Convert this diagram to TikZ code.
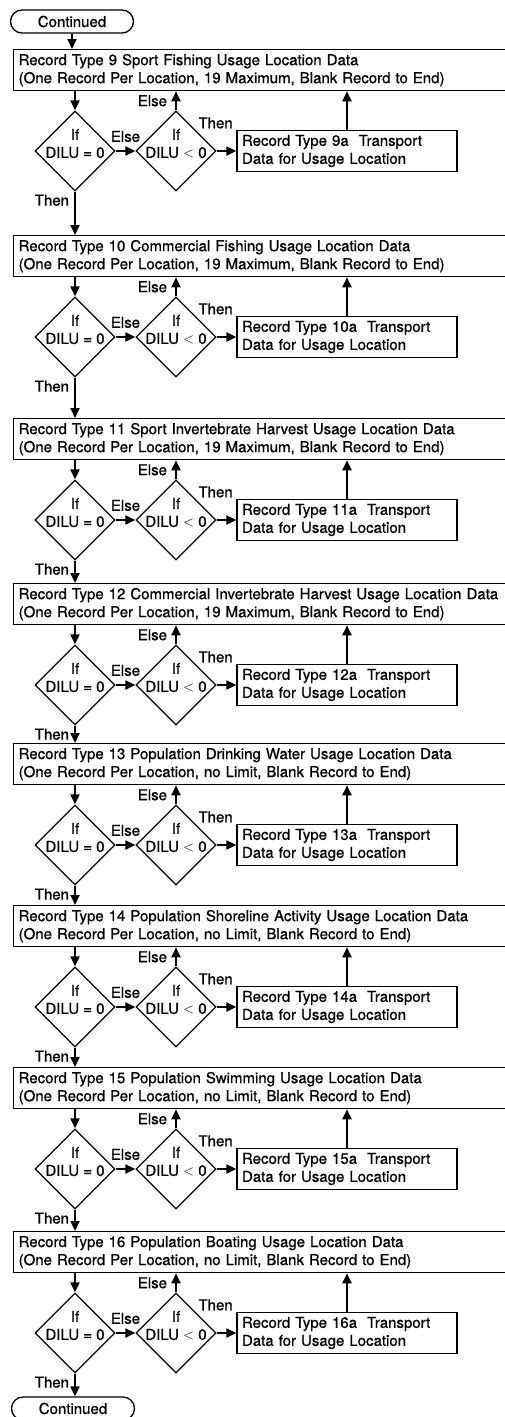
\documentclass[tikz,border=0pt]{standalone}
\usepackage{fontspec}
\setmainfont{TeX Gyre Heros}[FakeBold=0.8]
\usetikzlibrary{shapes.geometric,shapes.misc,arrows.meta}

\newcommand{\recfont}{\fontsize{15}{18}\selectfont}

\tikzset{
	recbox/.style={draw, line width=1.3pt, anchor=north west, minimum height=41pt, inner xsep=5pt, inner ysep=0pt, text width=484pt, align=left, font=\recfont},
	transbox/.style={draw, line width=1.3pt, minimum height=41pt, inner xsep=5pt, inner ysep=0pt, text width=210pt, align=left, font=\recfont},
	dilu/.style={draw, diamond, line width=1.3pt, minimum width=80pt, minimum height=80pt, inner sep=0pt},
	dilutext/.style={font=\recfont, align=center, inner sep=0pt, yshift=7.5pt},
	term/.style={draw, rounded rectangle, line width=1.3pt, minimum width=123pt, minimum height=23pt, inner sep=0pt, font=\recfont},
	flow/.style={line width=2pt, -{Triangle[length=10pt,width=9pt]}},
	tag/.style={font=\recfont, inner sep=2pt}
}

\begin{document}
\begin{tikzpicture}[x=1pt, y=-1pt]
	
	\useasboundingbox (0,0) rectangle (505,1417);
	
	\node [term] (contin) at (72,21.5) {Continued};
	\node [term] (contout) at (73,1408.5) {Continued};
	
	\foreach \n/\y/\title/\lim in {
		9/49/Sport Fishing/19 Maximum,
		10/235/Commercial Fishing/19 Maximum,
		11/418/Sport Invertebrate Harvest/19 Maximum,
		12/583/Commercial Invertebrate Harvest/19 Maximum,
		13/743/Population Drinking Water/no Limit,
		14/905/Population Shoreline Activity/no Limit,
		15/1067/Population Swimming/no Limit,
		16/1231/Population Boating/no Limit}
	{
		\node [recbox] (box\n) at (13,\y) {Record Type \n{} \title{} Usage Location Data\\(One Record Per Location, \lim, Blank Record to End)};
		
		\node [dilu, label={[dilutext]center:If\\DILU = 0}] (dzero\n) at (75,\y+102) {};
		\node [dilu, label={[dilutext]center:If\\DILU $<$ 0}] (dneg\n) at (176,\y+102) {};
		\node [transbox] (trans\n) at (347,\y+102) {Record Type \n a~ Transport\\Data for Usage Location};
		
		\draw [flow] (dzero\n |- box\n.south) -- (dzero\n.north);
		\draw [flow] (dzero\n.east) -- node [tag, above=6pt] {Else} (dneg\n.west);
		\draw [flow] (dneg\n.north) -- node [tag, left=6pt] {Else} (dneg\n |- box\n.south);
		\draw [flow] (dneg\n.east) -- (trans\n.west);
		\draw [flow] (trans\n.north) -- (trans\n.north |- box\n.south);
		\node [tag, anchor=south west] at (dneg\n.north east) {Then};
	}
	
	\draw [flow] (contin.south) -- (contin.south |- box9.north);
	
	\foreach \n/\m in {9/10, 10/11, 11/12, 12/13, 13/14, 14/15, 15/16}
	\draw [flow] (dzero\n.south) node [tag, below left, xshift=-3pt] {Then} -- (dzero\n |- box\m.north);
	
	\draw [flow] (dzero16.south) node [tag, below left, xshift=-3pt] {Then} -- (dzero16.south |- contout.north);
	
\end{tikzpicture}
\end{document}
